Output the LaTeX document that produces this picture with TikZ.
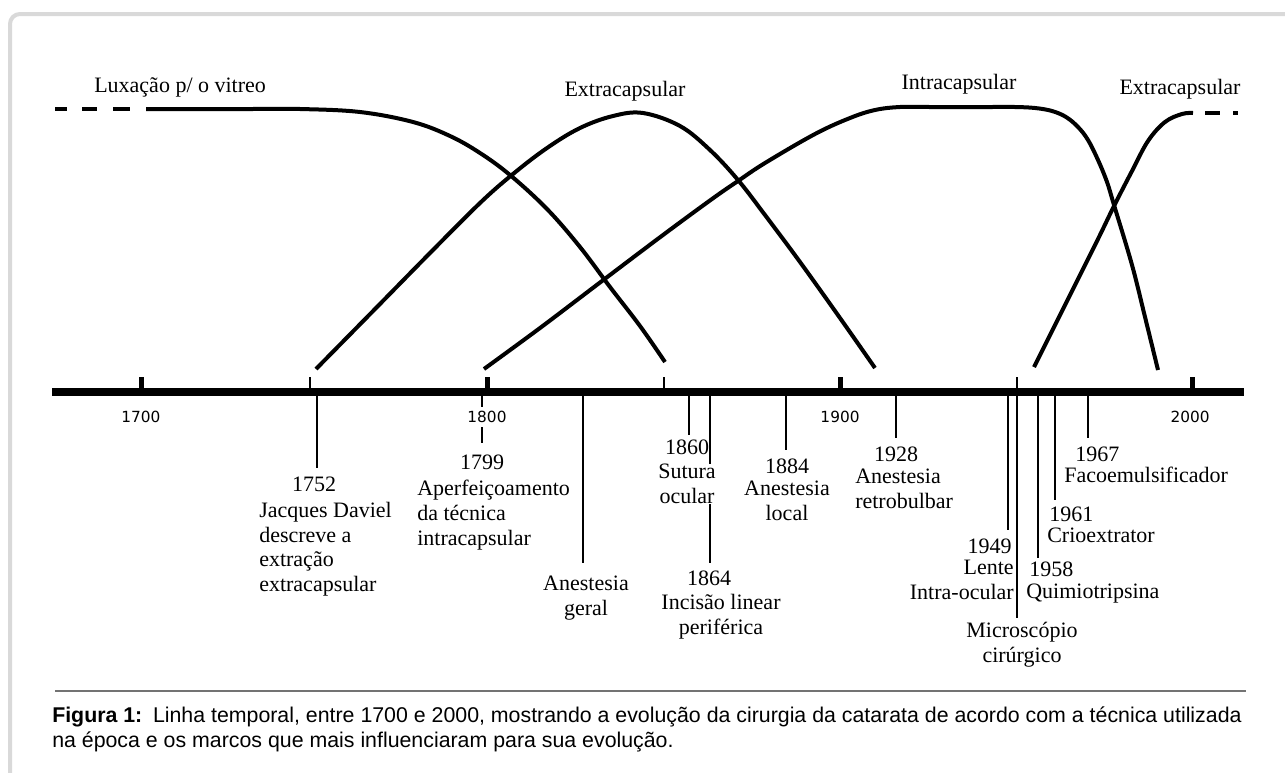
\documentclass[tikz,border=0pt]{standalone}
\usepackage{fontspec}
\setmainfont{Liberation Serif}
\newfontfamily\capfont{Liberation Sans}
\newfontfamily\axisfont{DejaVu Sans}
\newcommand\evfont{\fontsize{16.5}{18.5}\selectfont}
\tikzset{
  curve/.style={line width=3pt, line join=round},
  evline/.style={line width=1.1pt},
  majortick/.style={line width=3.75pt},
  yr/.style={font=\evfont, inner sep=0pt, fill=white, anchor=north},
  ev/.style={font=\evfont, inner sep=0pt, fill=white},
  axlab/.style={font=\axisfont\fontsize{11.5}{13}\selectfont, fill=white, inner sep=3.5pt},
  toplab/.style={font=\evfont, inner sep=0pt}
}
\begin{document}
\begin{tikzpicture}[x=0.75pt, y=-0.75pt, line cap=butt]
      \useasboundingbox[fill=white] (0,0) rectangle (1285,772);

      % frame
      \draw[line width=3pt, color=black!15, rounded corners=7.5pt] (10,800) -- (10,14) -- (1300,14);

      % techniques
      \foreach \a/\b in {55/67, 82/97, 113/130}
        \draw[curve] (\a,109) -- (\b,109);
      \draw[curve] plot[smooth, tension=0.6] coordinates {(146,109) (200,109) (250,109) (300,109) (360,112) (413,122) (450,136) (480,153) (510,175) (547,209) (580,247) (610,287) (640,326) (665,362)};
      \draw[curve] plot[smooth, tension=0.6] coordinates {(316,369) (377,307) (430,253) (480,203) (513,174) (547,148) (580,128) (613,116) (643,113) (680,126) (710,150) (738,180) (765,215) (800,262) (840,318) (875,368)};
      \draw[curve] plot[smooth, tension=0.6] coordinates {(484,369) (540,328) (602,281) (663,235) (712,199) (738,181) (765,163) (815,134) (850,118) (875,110) (900,107) (930,107) (960,107) (990,107) (1015,107) (1035,108) (1052,111) (1066,117) (1078,127) (1088,140) (1098,160) (1107,182) (1114,205) (1132,265) (1145,317) (1158,370)};
      \draw[curve] plot[smooth, tension=0.6] coordinates {(1034,367) (1066,303) (1098,239) (1114,206) (1132,171) (1148,141) (1165,122) (1182,114) (1193,113)};
      \foreach \a/\b in {1205/1220, 1233/1238}
        \draw[curve] (\a,113) -- (\b,113);

      \node[toplab, anchor=north west] (lux) at (94,77) {Luxação p/ o vitreo};
      \node[toplab, anchor=north] (extra1) at (625,81) {Extracapsular};
      \node[toplab, anchor=north] (intra) at (959,74) {Intracapsular};
      \node[toplab, anchor=north] (extra2) at (1180,79) {Extracapsular};

      % axis
      \draw[line width=6pt] (52,392) -- (1244,392);
      \foreach \x in {141, 487, 840, 1192}
        \draw[majortick] (\x,377) -- (\x,390);
      \foreach \x in {310, 664}
        \draw[evline] (\x,377) -- (\x,392);

      % marcos
      \foreach \n/\x/\y in {1752/317/468, 1799/482/443, geral/583/563, 1860/689/435, 1864/710/563, 1884/786/450, 1928/896/438, 1949/1008/530, 1958/1038/558, 1961/1055/500, 1967/1088/438} {
        \coordinate (a\n) at (\x,396);
        \coordinate (e\n) at (\x,\y);
        \draw[evline] (a\n) -- (e\n);
      }
      \coordinate (amicro) at (1017,377);
      \coordinate (emicro) at (1017,618);
      \draw[evline] (amicro) -- (emicro);

      \foreach \x/\ano in {141/1700, 487/1800, 840/1900, 1190/2000}
        \node[axlab] (l\ano) at (\x,417) {\ano};

      \node[yr] (y1752) at (314,477) {1752};
      \node[ev, anchor=north west, align=left] (t1752) at (259,502) {Jacques Daviel\\descreve a\\extração\\extracapsular};

      \node[yr] (y1799) at (482,455) {1799};
      \node[ev, anchor=north west, align=left] (t1799) at (417,480) {Aperfeiçoamento\\da técnica\\intracapsular};

      \node[ev, anchor=north, align=center] (tgeral) at (586,576) {Anestesia\\geral};

      \node[yr] (y1860) at (687,440) {1860};
      \node[ev, anchor=north, align=center] (t1860) at (687,464) {Sutura\\ocular};

      \node[yr] (y1864) at (709,571) {1864};
      \node[ev, anchor=north, align=center] (t1864) at (721,594) {Incisão linear\\periférica};

      \node[yr] (y1884) at (787,459) {1884};
      \node[ev, anchor=north, align=center] (t1884) at (787,481) {Anestesia\\local};

      \node[yr] (y1928) at (896,447) {1928};
      \node[ev, anchor=north west, align=left] (t1928) at (855,469) {Anestesia\\retrobulbar};

      \node[yr, anchor=north east] (y1949) at (1012,539) {1949};
      \node[ev, anchor=north east, align=right] (t1949) at (1014,560) {Lente\\Intra-ocular};

      \node[ev, anchor=north, align=center] (tmicro) at (1022,622) {Microscópio\\cirúrgico};

      \node[yr, anchor=north west] (y1958) at (1029,562) {1958};
      \node[ev, anchor=north west] (t1958) at (1026,584) {Quimiotripsina};

      \node[yr, anchor=north west] (y1961) at (1049,507) {1961};
      \node[ev, anchor=north west] (t1961) at (1047,528) {Crioextrator};

      \node[yr, anchor=north west] (y1967) at (1075,447) {1967};
      \node[ev, anchor=north west] (t1967) at (1064,467) {Facoemulsificador};

      % legenda
      \draw[line width=1.1pt, color=black!55] (55,691) -- (1246,691);
      \node[anchor=north west, inner sep=0pt, align=left, font=\capfont\fontsize{16}{18.75}\selectfont] (legenda) at (52,707)
        {\textbf{Figura 1:}\hspace{0.5em}Linha temporal, entre 1700 e 2000, mostrando a evolução da cirurgia da catarata de acordo com a técnica utilizada\\na época e os marcos que mais influenciaram para sua evolução.};
    \end{tikzpicture}
\end{document}
